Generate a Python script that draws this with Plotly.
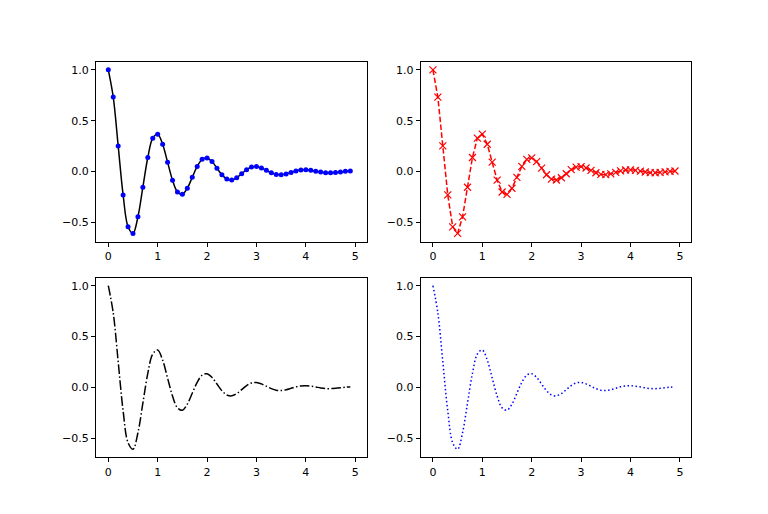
import plotly.graph_objs as go

t = [round(i * 0.1, 1) for i in range(50)]
f = [1.000, 0.732, 0.253, -0.229, -0.542, -0.607, -0.444, -0.153, 0.139, 0.329,
     0.368, 0.269, 0.093, -0.084, -0.200, -0.223, -0.163, -0.056, 0.051, 0.121,
     0.135, 0.099, 0.034, -0.031, -0.073, -0.082, -0.060, -0.021, 0.019, 0.045,
     0.050, 0.036, 0.013, -0.011, -0.027, -0.030, -0.022, -0.008, 0.007, 0.016,
     0.018, 0.013, 0.005, -0.004, -0.010, -0.011, -0.008, -0.003, 0.003, 0.006]

x_ticks = [0, 1, 2, 3, 4, 5]
y_ticks = [-0.5, 0.0, 0.5, 1.0]
y_labels = ['\u22120.5', '0.0', '0.5', '1.0']

fig = go.Figure()

# top left: black line with blue dots
fig.add_trace(go.Scatter(x=t, y=f, mode='lines', line=dict(color='black', width=1.5, shape='spline'),
                         xaxis='x', yaxis='y'))
fig.add_trace(go.Scatter(x=t, y=f, mode='markers', marker=dict(color='blue', size=5),
                         xaxis='x', yaxis='y'))
# top right: red dashed with x markers
fig.add_trace(go.Scatter(x=t, y=f, mode='lines+markers',
                         line=dict(color='red', width=1.5, dash='5.5px,2.4px'),
                         marker=dict(symbol='x-thin', size=7, color='red', line=dict(color='red', width=1.2)),
                         xaxis='x2', yaxis='y2'))
# bottom left: black dash-dot
fig.add_trace(go.Scatter(x=t, y=f, mode='lines',
                         line=dict(color='black', width=1.5, dash='9.6px,2.4px,1.5px,2.4px', shape='spline'),
                         xaxis='x3', yaxis='y3'))
# bottom right: blue dotted
fig.add_trace(go.Scatter(x=t, y=f, mode='lines',
                         line=dict(color='blue', width=1.5, dash='1.5px,2.5px', shape='spline'),
                         xaxis='x4', yaxis='y4'))

ax = dict(showline=True, mirror=True, linecolor='black', linewidth=1, ticks='outside',
          ticklen=4, tickcolor='black', showgrid=False, zeroline=False,
          tickfont=dict(family='DejaVu Sans', size=11, color='black'))
xa = dict(ax, range=[-0.249, 5.229], tickvals=x_ticks)
ya = dict(ax, range=[-0.687, 1.080], tickvals=y_ticks, ticktext=y_labels)

xl, xr = [0.125, 0.4773], [0.5477, 0.9]
yt, yb = [0.53, 0.88], [0.11, 0.46]

fig.update_layout(
    width=768, height=514,
    margin=dict(l=0, r=0, t=0, b=0),
    showlegend=False,
    paper_bgcolor='white', plot_bgcolor='white',
    xaxis=dict(xa, domain=xl, anchor='y'), yaxis=dict(ya, domain=yt, anchor='x'),
    xaxis2=dict(xa, domain=xr, anchor='y2'), yaxis2=dict(ya, domain=yt, anchor='x2'),
    xaxis3=dict(xa, domain=xl, anchor='y3'), yaxis3=dict(ya, domain=yb, anchor='x3'),
    xaxis4=dict(xa, domain=xr, anchor='y4'), yaxis4=dict(ya, domain=yb, anchor='x4'),
)

fig.write_html("out.html", config={'displayModeBar': False},
               post_script="document.body.style.margin='0';")
